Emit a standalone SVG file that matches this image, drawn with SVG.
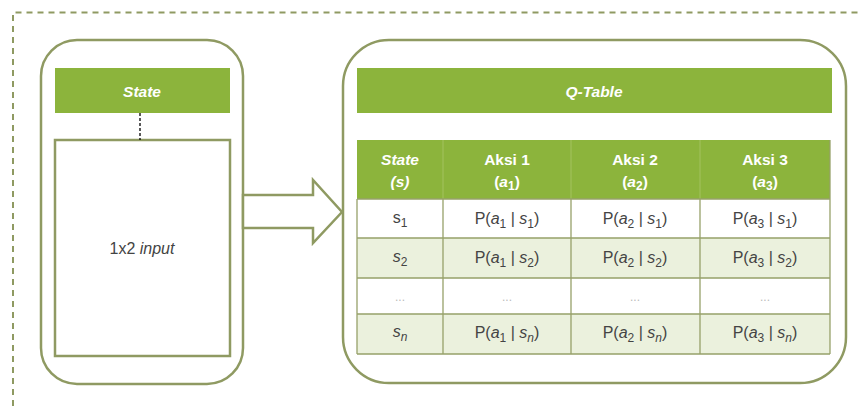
<svg xmlns="http://www.w3.org/2000/svg" width="861" height="410" viewBox="0 0 861 410">
<style>
text{font-family:"Liberation Sans",Arial,sans-serif;}
.frame{fill:#ffffff;stroke:#8f9a62;stroke-width:2.5;}
.hdr{fill:#8cb43c;}
.ht{fill:#ffffff;font-size:15.5px;font-weight:bold;text-anchor:middle;}
.bi{font-style:italic;}
.i{font-style:italic;}
.c{fill:#444444;font-size:16px;text-anchor:middle;}
.sub{font-size:12px;}
.grid{stroke:#97a16a;stroke-width:1.3;fill:none;}
.lt{fill:#ebf1dd;}
.dash{stroke:#000;stroke-width:1.3;stroke-dasharray:3,2;}
.dots{fill:#bbbbbb;font-size:12px;text-anchor:middle;}
</style>
<rect x="0" y="0" width="861" height="410" fill="#ffffff"/>
<path id="outer" d="M13,406V12.5H861" fill="none" stroke="#8f9a62" stroke-width="2" stroke-dasharray="6,5"/>

<g id="state-panel">
<rect class="frame" x="41" y="40" width="202" height="344" rx="36" ry="36"/>
<rect class="hdr" x="55" y="68" width="175" height="45"/>
<text class="ht bi" x="142" y="97">State</text>
<rect x="55" y="140" width="175" height="216" fill="#fff" stroke="#8f9a62" stroke-width="2.5"/>
<text x="142" y="254" fill="#444" font-size="16" text-anchor="middle">1x2 <tspan class="i">input</tspan></text>
</g>

<g id="connectors">
<line class="dash" x1="140" y1="113" x2="140" y2="140"/>
<line class="dash" x1="594" y1="113" x2="594" y2="140"/>
<polygon points="243,195 313,195 313,180 342,212 313,243 313,228 243,228" fill="#ffffff" stroke="#8f9a62" stroke-width="2.5" stroke-linejoin="miter"/>
</g>

<g id="qtable-panel">
<rect class="frame" x="343" y="40" width="503" height="343" rx="46" ry="46"/>
<rect class="hdr" x="357" y="68" width="475" height="45"/>
<text class="ht bi" x="594" y="97">Q-Table</text>
</g>

<g id="table">
<rect class="hdr" x="357" y="140" width="473" height="59"/>
<rect fill="#ffffff" x="357" y="199" width="473" height="39"/>
<rect class="lt" x="357" y="238" width="473" height="40"/>
<rect fill="#ffffff" x="357" y="278" width="473" height="36"/>
<rect class="lt" x="357" y="314" width="473" height="40"/>
<line x1="443" y1="140" x2="443" y2="199" stroke="#a3c25e" stroke-width="1"/>
<line x1="571" y1="140" x2="571" y2="199" stroke="#a3c25e" stroke-width="1"/>
<line x1="700" y1="140" x2="700" y2="199" stroke="#a3c25e" stroke-width="1"/>
<path class="grid" d="M357,199H830M357,238H830M357,278H830M357,314H830M357,354H830M357,199V354M443,199V354M571,199V354M700,199V354M830,140V354"/>

<text class="ht" x="400" y="165"><tspan class="bi">State</tspan></text>
<text class="ht" x="400" y="187" font-weight="normal"><tspan class="i">(s)</tspan></text>
<text class="ht" x="507" y="165">Aksi 1</text>
<text class="ht" x="507" y="187" font-weight="normal">(<tspan class="i">a</tspan><tspan class="sub" dy="3">1</tspan><tspan dy="-3">)</tspan></text>
<text class="ht" x="635" y="165">Aksi 2</text>
<text class="ht" x="635" y="187" font-weight="normal">(<tspan class="i">a</tspan><tspan class="sub" dy="3">2</tspan><tspan dy="-3">)</tspan></text>
<text class="ht" x="765" y="165">Aksi 3</text>
<text class="ht" x="765" y="187" font-weight="normal">(<tspan class="i">a</tspan><tspan class="sub" dy="3">3</tspan><tspan dy="-3">)</tspan></text>

<text class="c" x="400" y="223">s<tspan class="sub" dy="4">1</tspan></text>
<text class="c" x="507" y="224">P(<tspan class="i">a</tspan><tspan class="sub" dy="4">1</tspan><tspan dy="-4"> | </tspan><tspan class="i">s</tspan><tspan class="sub" dy="4">1</tspan><tspan dy="-4">)</tspan></text>
<text class="c" x="635" y="224">P(<tspan class="i">a</tspan><tspan class="sub" dy="4">2</tspan><tspan dy="-4"> | </tspan><tspan class="i">s</tspan><tspan class="sub" dy="4">1</tspan><tspan dy="-4">)</tspan></text>
<text class="c" x="765" y="224">P(<tspan class="i">a</tspan><tspan class="sub" dy="4">3</tspan><tspan dy="-4"> | </tspan><tspan class="i">s</tspan><tspan class="sub" dy="4">1</tspan><tspan dy="-4">)</tspan></text>

<text class="c" x="400" y="262"><tspan class="i">s</tspan><tspan class="sub" dy="4">2</tspan></text>
<text class="c" x="507" y="263">P(<tspan class="i">a</tspan><tspan class="sub" dy="4">1</tspan><tspan dy="-4"> | </tspan><tspan class="i">s</tspan><tspan class="sub" dy="4">2</tspan><tspan dy="-4">)</tspan></text>
<text class="c" x="635" y="263">P(<tspan class="i">a</tspan><tspan class="sub" dy="4">2</tspan><tspan dy="-4"> | </tspan><tspan class="i">s</tspan><tspan class="sub" dy="4">2</tspan><tspan dy="-4">)</tspan></text>
<text class="c" x="765" y="263">P(<tspan class="i">a</tspan><tspan class="sub" dy="4">3</tspan><tspan dy="-4"> | </tspan><tspan class="i">s</tspan><tspan class="sub" dy="4">2</tspan><tspan dy="-4">)</tspan></text>

<text class="dots" x="400" y="301">...</text>
<text class="dots" x="507" y="301">...</text>
<text class="dots" x="635" y="301">...</text>
<text class="dots" x="765" y="301">...</text>

<text class="c" x="400" y="337"><tspan class="i">s</tspan><tspan class="sub i" dy="4">n</tspan></text>
<text class="c" x="507" y="338">P(<tspan class="i">a</tspan><tspan class="sub" dy="4">1</tspan><tspan dy="-4"> | </tspan><tspan class="i">s</tspan><tspan class="sub i" dy="4">n</tspan><tspan dy="-4">)</tspan></text>
<text class="c" x="635" y="338">P(<tspan class="i">a</tspan><tspan class="sub" dy="4">2</tspan><tspan dy="-4"> | </tspan><tspan class="i">s</tspan><tspan class="sub i" dy="4">n</tspan><tspan dy="-4">)</tspan></text>
<text class="c" x="765" y="338">P(<tspan class="i">a</tspan><tspan class="sub" dy="4">3</tspan><tspan dy="-4"> | </tspan><tspan class="i">s</tspan><tspan class="sub i" dy="4">n</tspan><tspan dy="-4">)</tspan></text>
</g>
</svg>
